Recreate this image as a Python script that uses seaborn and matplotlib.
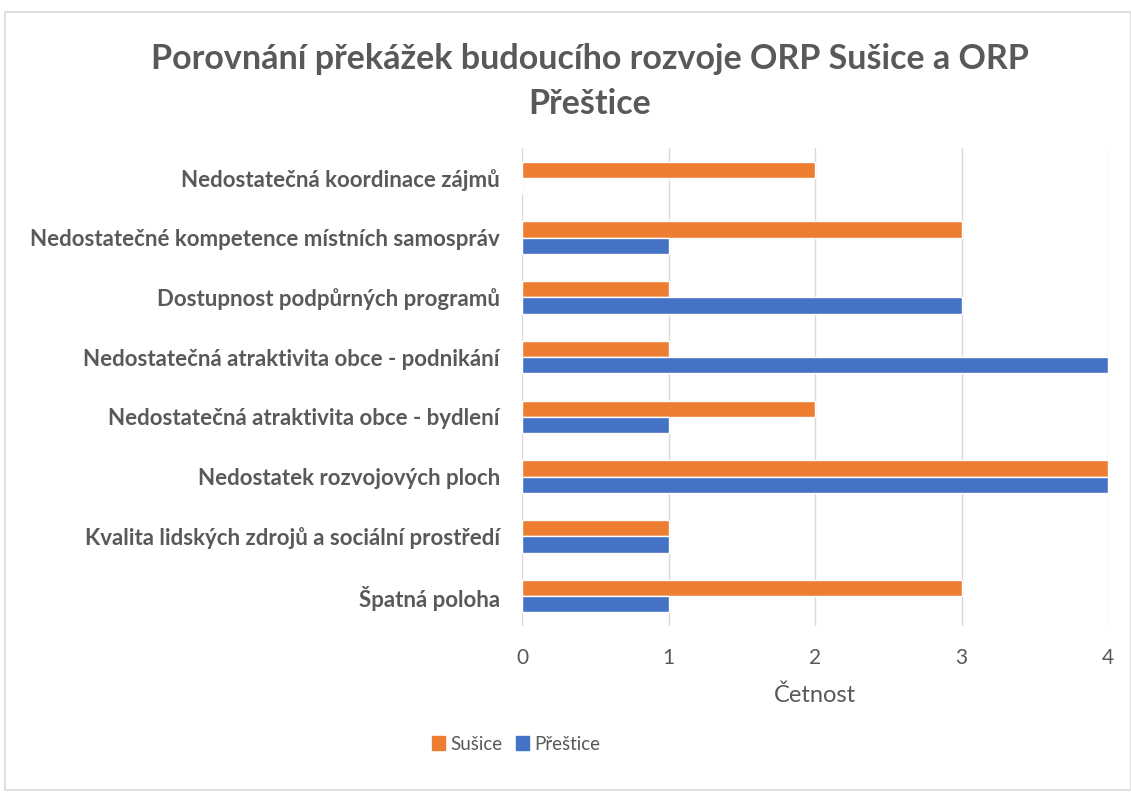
import matplotlib
matplotlib.use("Agg")
import matplotlib.pyplot as plt
import seaborn as sns
import pandas as pd
from matplotlib.patches import Rectangle

categories = [
    "Nedostatečná koordinace zájmů",
    "Nedostatečné kompetence místních samospráv",
    "Dostupnost podpůrných programů",
    "Nedostatečná atraktivita obce - podnikání",
    "Nedostatečná atraktivita obce - bydlení",
    "Nedostatek rozvojových ploch",
    "Kvalita lidských zdrojů a sociální prostředí",
    "Špatná poloha",
]
susice = [2, 3, 1, 1, 2, 4, 1, 3]
prestice = [0, 1, 3, 4, 1, 4, 1, 1]
series_names = ["Sušice", "Přeštice"]
colors = ["#ED7D31", "#4472C4"]
xticks = [0, 1, 2, 3, 4]

sns.set_theme(style="white")
plt.rcParams["font.family"] = ["Lato", "DejaVu Sans"]

df = pd.DataFrame({
    "Kategorie": categories * 2,
    "Hodnota": susice + prestice,
    "Řada": [series_names[0]] * len(categories) + [series_names[1]] * len(categories),
})

fig = plt.figure(figsize=(11.31, 7.96), dpi=100)
fig.patches.append(Rectangle((5 / 1131, 6 / 796), 1 - 5 / 1131, 1 - 18 / 796,
                             transform=fig.transFigure, fill=False,
                             edgecolor="#D9D9D9", linewidth=1.2))
ax = fig.add_axes([522 / 1131, 1 - 626 / 796, (1108 - 522) / 1131, (626 - 148) / 796])

sns.barplot(data=df, y="Kategorie", x="Hodnota", hue="Řada", order=categories,
            hue_order=series_names, palette=colors, orient="h", width=0.54,
            saturation=1, ax=ax, legend=False)

ax.set_xlim(0, 4)
ax.set_xticks(xticks)
ax.set_xticklabels([str(t) for t in xticks], fontsize=15, color="#595959")
ax.grid(axis="x", color="#D9D9D9", linewidth=1)
ax.set_axisbelow(True)
for s in ax.spines.values():
    s.set_visible(False)
ax.tick_params(axis="both", length=0)
ax.tick_params(axis="x", pad=16)
ax.tick_params(axis="y", pad=16)
for lbl in ax.get_yticklabels():
    lbl.set_fontweight("bold")
    lbl.set_fontsize(16)
    lbl.set_color("#595959")
ax.set_ylabel("")
ax.set_xlabel("Četnost", fontsize=17, color="#595959", labelpad=12)

fig.text(590 / 1131, 1 - 59 / 796, "Porovnání překážek budoucího rozvoje ORP Sušice a ORP",
         ha="center", va="center", fontsize=24.5, fontweight="bold", color="#595959")
fig.text(590 / 1131, 1 - 104 / 796, "Přeštice",
         ha="center", va="center", fontsize=24.5, fontweight="bold", color="#595959")

handles = [Rectangle((0, 0), 1, 1, color=c) for c in colors]
fig.legend(handles, series_names, loc="center", bbox_to_anchor=(516 / 1131, 1 - 744 / 796),
           ncol=2, frameon=False, fontsize=13.5, handlelength=0.7, handleheight=0.7,
           handletextpad=0.3, columnspacing=0.7, labelcolor="#595959")

fig.savefig("out.png", dpi=100)
